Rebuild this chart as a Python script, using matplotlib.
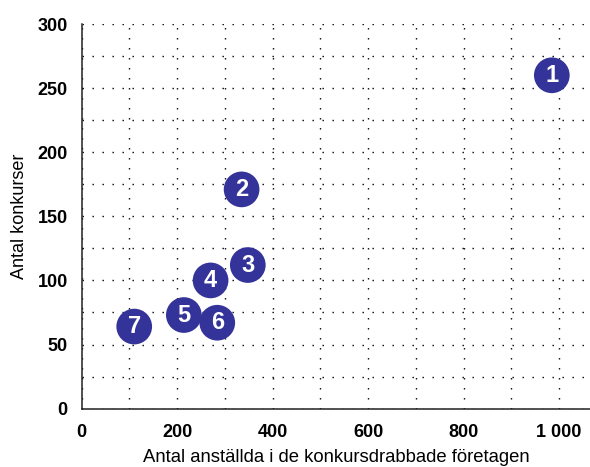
import numpy as np
import matplotlib.pyplot as plt
from matplotlib.ticker import FuncFormatter, MultipleLocator

# values
labels = ['1', '2', '3', '4', '5', '6', '7']
employees = [985, 335, 348, 270, 214, 284, 110]
bankruptcies = [260, 171, 112, 100, 73, 67, 64]

x_ticks = [0, 200, 400, 600, 800, 1000]
y_ticks = [0, 50, 100, 150, 200, 250, 300]

plt.rcParams['font.family'] = ['Liberation Sans', 'DejaVu Sans']

fig = plt.figure(figsize=(5.9, 4.67), dpi=100)
ax = fig.add_axes([0.1385, 0.125, 0.8615, 0.8236])

dots = (0, (1, 6.2))
ax.xaxis.set_minor_locator(MultipleLocator(100))
ax.yaxis.set_minor_locator(MultipleLocator(25))
ax.grid(which='both', color='black', linestyle=dots, linewidth=1.0)
ax.set_axisbelow(True)

ax.scatter(employees, bankruptcies, s=660, color='#333399', edgecolors='none', zorder=3)
for lab, x, y in zip(labels, employees, bankruptcies):
    ax.text(x, y, lab, color='white', fontsize=17, fontweight='bold',
            ha='center', va='center', zorder=4)

ax.set_xlim(0, 1065)
ax.set_ylim(0, 300)
ax.set_xticks(x_ticks)
ax.set_yticks(y_ticks)
ax.xaxis.set_major_formatter(FuncFormatter(lambda v, p: f'{int(v):,}'.replace(',', ' ')))
ax.tick_params(which='both', length=0)
ax.tick_params(axis='x', pad=11, labelsize=13)
ax.tick_params(axis='y', pad=10, labelsize=13)
for t in ax.get_xticklabels() + ax.get_yticklabels():
    t.set_fontweight('bold')

for side in ['top', 'right']:
    ax.spines[side].set_visible(False)
ax.spines['left'].set_linewidth(1.1)
ax.spines['bottom'].set_linewidth(1.1)
ax.spines['left'].set_color('#222222')
ax.spines['bottom'].set_color('#222222')

ax.set_xlabel('Antal anställda i de konkursdrabbade företagen', fontsize=13.3, labelpad=6)
ax.set_ylabel('Antal konkurser', fontsize=13, labelpad=7)

fig.savefig('out.png', dpi=100)
